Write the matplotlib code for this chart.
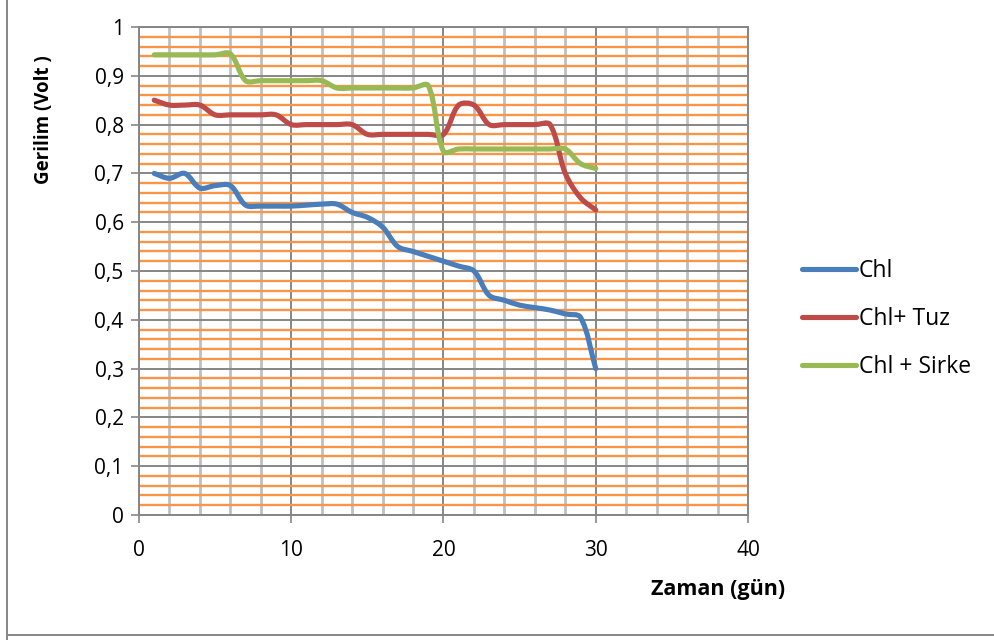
import numpy as np
import matplotlib
matplotlib.use("Agg")
import matplotlib.pyplot as plt
from matplotlib.path import Path
from matplotlib.patches import PathPatch
from matplotlib.lines import Line2D
from matplotlib.ticker import MultipleLocator, FuncFormatter

plt.rcParams['font.family'] = ['Open Sans', 'DejaVu Sans']

# Ölçüm verileri (gün, volt)
gun = list(range(1, 31))
chl = [0.70, 0.69, 0.70, 0.67, 0.675, 0.675, 0.635, 0.633, 0.633, 0.633,
       0.635, 0.637, 0.637, 0.62, 0.61, 0.59, 0.55, 0.54, 0.53, 0.52,
       0.51, 0.50, 0.45, 0.44, 0.43, 0.425, 0.42, 0.412, 0.405, 0.30]
chl_tuz = [0.85, 0.84, 0.84, 0.84, 0.82, 0.82, 0.82, 0.82, 0.82, 0.80,
           0.80, 0.80, 0.80, 0.80, 0.78, 0.78, 0.78, 0.78, 0.78, 0.78,
           0.84, 0.84, 0.80, 0.80, 0.80, 0.80, 0.80, 0.70, 0.65, 0.625]
chl_sirke = [0.943, 0.943, 0.943, 0.943, 0.943, 0.945, 0.89, 0.89, 0.89, 0.89,
             0.89, 0.89, 0.875, 0.875, 0.875, 0.875, 0.875, 0.875, 0.88, 0.745,
             0.75, 0.75, 0.75, 0.75, 0.75, 0.75, 0.75, 0.75, 0.72, 0.71]

seriler = [("Chl", chl, "#4A7EBB"),
           ("Chl+ Tuz", chl_tuz, "#BE4B48"),
           ("Chl + Sirke", chl_sirke, "#98B954")]


def yumusak_yol(ax, x, y):
    """Excel tarzı yumuşatılmış çizgi: piksel uzayında, komşu parça
    uzunluklarına göre ölçeklenen Bezier kontrol noktaları."""
    p = ax.transData.transform(np.column_stack([x, y]).astype(float))
    n = len(p)
    verts = [p[0]]
    codes = [Path.MOVETO]
    for i in range(n - 1):
        p0 = p[i - 1] if i > 0 else p[i]
        p1, p2 = p[i], p[i + 1]
        p3 = p[i + 2] if i + 2 < n else p[i + 1]
        d01 = np.hypot(*(p1 - p0))
        d12 = np.hypot(*(p2 - p1))
        d23 = np.hypot(*(p3 - p2))
        f1 = d12 / (d01 + d12) / 3.0 if d01 + d12 > 0 else 0
        f2 = d12 / (d12 + d23) / 3.0 if d12 + d23 > 0 else 0
        c1 = p1 + (p2 - p0) * f1
        c2 = p2 - (p3 - p1) * f2
        verts += [c1, c2, p2]
        codes += [Path.CURVE4] * 3
    verts = ax.transData.inverted().transform(np.array(verts))
    return Path(verts, codes)


fig = plt.figure(figsize=(9.95, 6.4), dpi=100)
ax = fig.add_axes([139 / 995, 125 / 640, 609 / 995, 488 / 640])

ax.set_xlim(0, 40)
ax.set_ylim(0, 1)
ax.xaxis.set_major_locator(MultipleLocator(10))
ax.xaxis.set_minor_locator(MultipleLocator(2))
ax.yaxis.set_major_locator(MultipleLocator(0.1))
ax.yaxis.set_minor_locator(MultipleLocator(0.02))

virgul = FuncFormatter(lambda v, pos: ("%g" % round(v, 2)).replace(".", ","))
ax.yaxis.set_major_formatter(virgul)

# ızgara çizgileri
ax.grid(True, which="minor", axis="x", color="#C0C0C0", linewidth=2.0)
ax.grid(True, which="minor", axis="y", color="#F79646", linewidth=1.7)
ax.grid(True, which="major", axis="x", color="#868686", linewidth=1.4)
ax.grid(True, which="major", axis="y", color="#868686", linewidth=1.4)
ax.set_axisbelow(True)

for s in ax.spines.values():
    s.set_color("#868686")
    s.set_linewidth(1.4)

ax.tick_params(which="major", direction="out", length=6, width=1.2, color="#868686",
               labelsize=15, pad=5)
ax.tick_params(axis="x", which="major", pad=12)
ax.tick_params(which="minor", length=0)

for ad, deger, renk in seriler:
    ax.add_patch(PathPatch(yumusak_yol(ax, gun, deger), facecolor="none", edgecolor=renk,
                           linewidth=3.7, capstyle="round", joinstyle="round", zorder=3))

fig.text(44 / 995, 1 - 120 / 640, "Gerilim (Volt )", rotation=90, ha="center", va="center",
         fontsize=13.5, fontweight="bold")
fig.text(718 / 995, 1 - 590 / 640, "Zaman (gün)", ha="center", va="center",
         fontsize=15.5, fontweight="bold")

handles = [Line2D([], [], color=renk, linewidth=3.7, solid_capstyle="round") for _, _, renk in seriler]
fig.legend(handles, [ad for ad, _, _ in seriler], loc="center left",
           bbox_to_anchor=(791 / 995, 1 - 319 / 640), frameon=False, fontsize=16.5,
           handlelength=2.35, handletextpad=0.1, labelspacing=1.03, borderpad=0)

# grafik alanının sol ve alt kenarı
fig.add_artist(Line2D([7 / 995, 7 / 995], [0, 1], color="#868686", linewidth=1.4))
fig.add_artist(Line2D([7 / 995, 1], [5 / 640, 5 / 640], color="#868686", linewidth=1.4))

fig.savefig("out.png", dpi=100)
